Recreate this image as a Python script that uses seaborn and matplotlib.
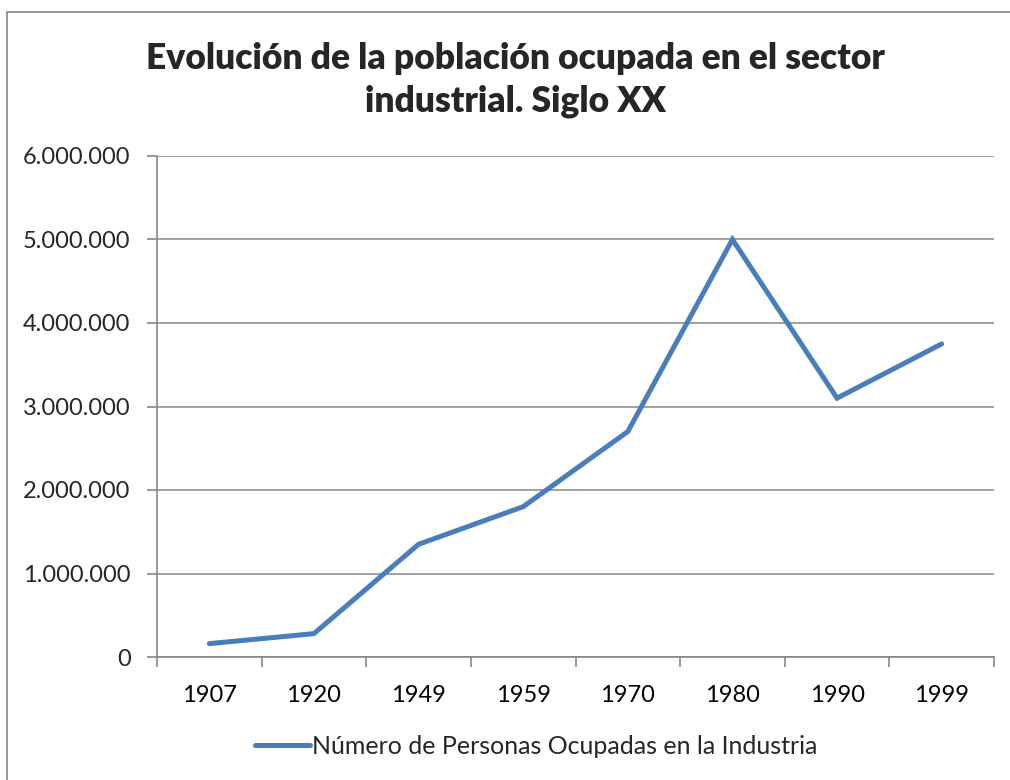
import matplotlib
matplotlib.use("Agg")
import matplotlib.pyplot as plt
import seaborn as sns
import pandas as pd
from matplotlib.patches import Rectangle
from matplotlib.ticker import FuncFormatter, FixedLocator

years = ["1907", "1920", "1949", "1959", "1970", "1980", "1990", "1999"]
workers = [160000, 280000, 1350000, 1800000, 2700000, 5000000, 3100000, 3750000]
series_name = "Número de Personas Ocupadas en la Industria"
title = "Evolución de la población ocupada en el sector\nindustrial. Siglo XX"

sns.set_theme(style="white")
plt.rcParams["font.family"] = ["Lato", "DejaVu Sans"]

df = pd.DataFrame({"year": years, "value": workers})

fig = plt.figure(figsize=(10.1, 7.8), dpi=100)
ax = fig.add_axes([157/1010, 1-657/780, (994-157)/1010, (657-156)/780])

grey = "#868686"
sns.lineplot(data=df, x="year", y="value", ax=ax, color="#4A7EBB",
             linewidth=3.6, label=series_name, legend=False)
ax.get_lines()[0].set_solid_capstyle("round")
ax.get_lines()[0].set_solid_joinstyle("miter")

ax.set_xlim(-0.5, len(years) - 0.5)
ax.set_ylim(0, 6000000)
ax.set_yticks(range(0, 6000001, 1000000))
ax.yaxis.set_major_formatter(FuncFormatter(lambda v, p: f"{int(v):,}".replace(",", ".")))
ax.grid(axis="y", color=grey, linewidth=1.1)
ax.set_axisbelow(True)
ax.set_xlabel("")
ax.set_ylabel("")

ax.set_xticks(range(len(years)))
ax.set_xticklabels(years)
ax.xaxis.set_minor_locator(FixedLocator([i - 0.5 for i in range(len(years) + 1)]))
ax.tick_params(axis="x", which="major", length=0, pad=20, labelsize=17, colors="black")
ax.tick_params(axis="x", which="minor", length=7, width=1.2, color=grey, bottom=True)
ax.tick_params(axis="y", which="major", length=7, width=1.2, color=grey, left=True,
               labelsize=17, pad=12)

for s in ["top", "right"]:
    ax.spines[s].set_visible(False)
for s in ["left", "bottom"]:
    ax.spines[s].set_color(grey)
    ax.spines[s].set_linewidth(1.2)

fig.text(0.510, 1 - 80/780, title, ha="center", va="center", fontsize=25.5,
         fontweight="heavy", linespacing=1.38)

fig.patches.append(Rectangle((7/1010, -0.1), 1.2, 1 - 12/780 + 0.1,
                             transform=fig.transFigure, fill=False,
                             edgecolor=grey, linewidth=1.2))

handles, labels = ax.get_lines(), [series_name]
leg = fig.legend(handles[:1], labels, loc="center", bbox_to_anchor=(0.531, 1 - 746/780),
                 frameon=False, fontsize=18, handlelength=2.2, handletextpad=0.1)

fig.savefig("out.png", dpi=100)
